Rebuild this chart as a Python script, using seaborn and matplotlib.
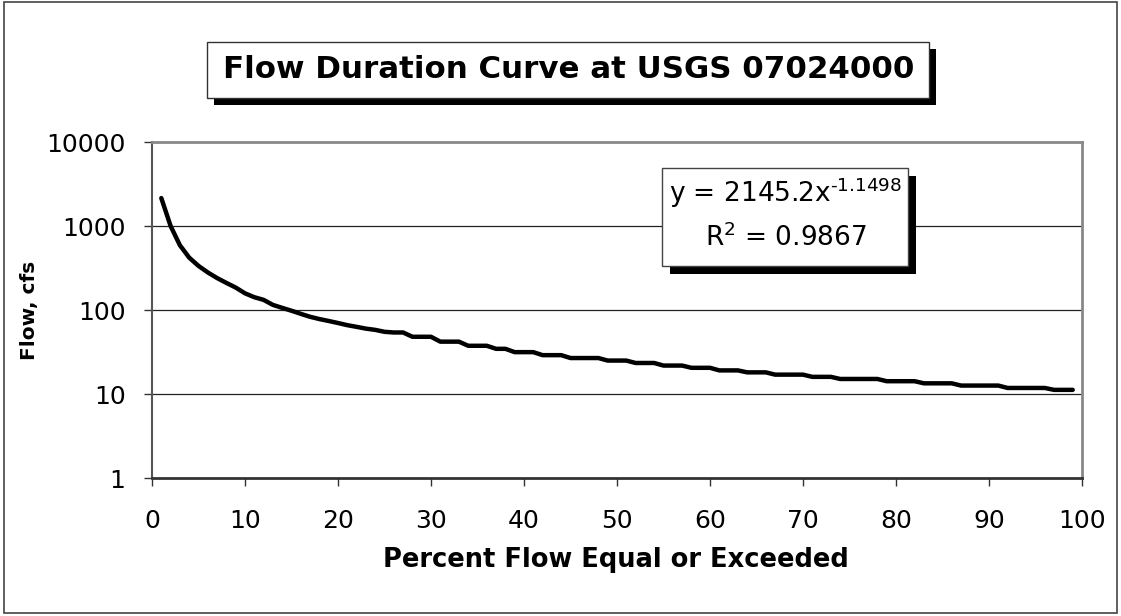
import numpy as np
import pandas as pd
import matplotlib
matplotlib.use('Agg')
import matplotlib.pyplot as plt
import seaborn as sns
from matplotlib.patches import Rectangle

percent = list(range(1, 100))
flow_cfs = [2150, 1000, 590, 420, 335, 280, 240, 210, 185, 158,
            142, 132, 115, 106, 98, 90, 83, 78, 74, 70,
            66, 63, 60, 58, 55, 54, 54, 48, 48, 48,
            42, 42, 42, 37.5, 37.5, 37.5, 34.5, 34.5, 31.5, 31.5,
            31.5, 29, 29, 29, 26.8, 26.8, 26.8, 26.8, 25, 25,
            25, 23.4, 23.4, 23.4, 21.8, 21.8, 21.8, 20.5, 20.5, 20.5,
            19.1, 19.1, 19.1, 18.1, 18.1, 18.1, 17, 17, 17, 17,
            16, 16, 16, 15.1, 15.1, 15.1, 15.1, 15.1, 14.2, 14.2,
            14.2, 14.2, 13.4, 13.4, 13.4, 13.4, 12.6, 12.6, 12.6, 12.6,
            12.6, 11.8, 11.8, 11.8, 11.8, 11.8, 11.2, 11.2, 11.2]
y_ticks = [1, 10, 100, 1000, 10000]
y_tick_labels = ["1", "10", "100", "1000", "10000"]
x_ticks = [0, 10, 20, 30, 40, 50, 60, 70, 80, 90, 100]

title = "Flow Duration Curve at USGS 07024000"
x_label = "Percent Flow Equal or Exceeded"
y_label = "Flow, cfs"
eq_line1 = "y = 2145.2x$^{\\mathregular{\u20101.1498}}$"
eq_line2 = "R$^{\\mathregular{2}}$ = 0.9867"

sns.set_theme(style='white')
plt.rcParams['font.family'] = ['DejaVu Sans']

W, H = 1121, 616
fig = plt.figure(figsize=(W / 100, H / 100), dpi=100)
fig.patch.set_facecolor('white')


def fx(px):
    return px / W


def fy(py):
    return 1 - py / H


# outer chart border
fig.add_artist(Rectangle((fx(4), fy(613)), fx(1117) - fx(4), fy(2) - fy(613),
                         transform=fig.transFigure, fill=False, ec='#444444', lw=1.2))

ax = fig.add_axes([fx(152), fy(478), fx(1082) - fx(152), fy(142) - fy(478)])
df = pd.DataFrame({'pct': percent, 'flow': flow_cfs})
sns.lineplot(data=df, x='pct', y='flow', ax=ax, color='black', linewidth=3.2,
             solid_capstyle='round', solid_joinstyle='round')
ax.set_yscale('log')
ax.set_ylim(1, 10000)
ax.set_xlim(0, 100)
ax.set_yticks(y_ticks)
ax.set_yticklabels(y_tick_labels)
ax.yaxis.set_minor_locator(matplotlib.ticker.NullLocator())
ax.set_xticks(x_ticks)
ax.set_xticklabels([str(v) for v in x_ticks])
ax.set_xlabel('')
ax.set_ylabel('')
for v in y_ticks[1:-1]:
    ax.axhline(v, color='#222222', lw=0.9, zorder=1)
ax.tick_params(axis='both', which='major', direction='out', length=6,
               width=1, color='#333333', labelsize=18, labelcolor='black', left=True, bottom=True)
ax.tick_params(axis='y', pad=13)
ax.tick_params(axis='x', pad=16)
ax.spines['left'].set_color('#555555')
ax.spines['left'].set_linewidth(1.5)
ax.spines['bottom'].set_color('#333333')
ax.spines['bottom'].set_linewidth(2)
ax.spines['top'].set_color('#888888')
ax.spines['top'].set_linewidth(2)
ax.spines['right'].set_color('#888888')
ax.spines['right'].set_linewidth(2)
for s in ax.spines.values():
    s.set_visible(True)

# title box with shadow
fig.add_artist(Rectangle((fx(214), fy(105)), fx(936) - fx(214), fy(49) - fy(105),
                         transform=fig.transFigure, fc='black', ec='none'))
fig.add_artist(Rectangle((fx(207), fy(98)), fx(929) - fx(207), fy(42) - fy(98),
                         transform=fig.transFigure, fc='white', ec='#333333', lw=1))
fig.text(fx(569), fy(70), title, ha='center', va='center', fontsize=22.2,
         fontweight='bold', color='black')

# equation box with shadow
fig.add_artist(Rectangle((fx(670), fy(274)), fx(916) - fx(670), fy(176) - fy(274),
                         transform=fig.transFigure, fc='black', ec='none', zorder=5))
fig.add_artist(Rectangle((fx(662), fy(266)), fx(908) - fx(662), fy(168) - fy(266),
                         transform=fig.transFigure, fc='white', ec='#444444', lw=1, zorder=6))
fig.text(fx(786), fy(193), eq_line1, ha='center', va='center', fontsize=19,
         color='black', zorder=7)
fig.text(fx(786), fy(238), eq_line2, ha='center', va='center', fontsize=19,
         color='black', zorder=7)

fig.text(fx(30), fy(310), y_label, ha='center', va='center', rotation=90,
         fontsize=14.5, fontweight='bold', color='black')
fig.text(fx(616), fy(560), x_label, ha='center', va='center',
         fontsize=18.5, fontweight='bold', color='black')

fig.savefig('out.png', dpi=100, facecolor='white')
